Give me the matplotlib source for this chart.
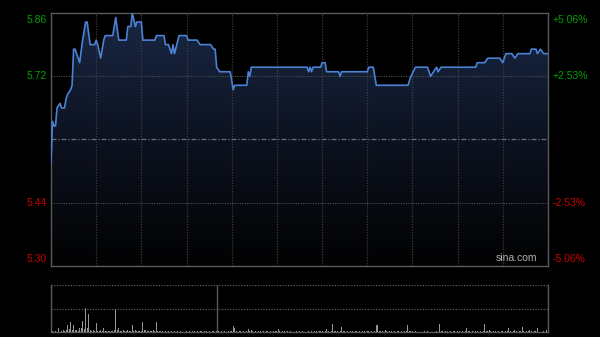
import matplotlib
matplotlib.use('Agg')
import matplotlib.pyplot as plt
import numpy as np
from matplotlib.colors import LinearSegmentedColormap

# ---- data ----
minutes = [0, 1, 2, 3, 4, 6, 7, 9, 10, 11, 13, 14, 15, 16, 19, 21, 23, 24, 26, 29, 30, 31,
           33, 35, 36, 38, 41, 43, 45, 50, 51, 53, 54, 56, 57, 60, 61, 69, 70, 75, 76, 78,
           80, 81, 82, 85, 90, 91, 97, 99, 106, 108, 109, 110, 112, 119, 121, 122, 130, 131,
           132, 133, 170, 171, 172, 173, 174, 179, 180, 182, 183, 191, 192, 193, 210, 211,
           214, 216, 237, 239, 242, 250, 252, 254, 256, 257, 259, 282, 283, 288, 290, 298,
           300, 302, 306, 308, 310, 318, 319, 322, 323, 325, 327, 330]
prices = [5.53, 5.62, 5.61, 5.61, 5.65, 5.66, 5.65, 5.65, 5.67, 5.68, 5.69, 5.70, 5.78, 5.78,
          5.75, 5.80, 5.84, 5.84, 5.79, 5.79, 5.80, 5.79, 5.76, 5.80, 5.81, 5.81, 5.81, 5.85,
          5.80, 5.80, 5.83, 5.83, 5.86, 5.83, 5.84, 5.84, 5.80, 5.80, 5.81, 5.81, 5.79, 5.79,
          5.77, 5.79, 5.77, 5.81, 5.81, 5.80, 5.80, 5.79, 5.79, 5.78, 5.78, 5.74, 5.73, 5.73,
          5.69, 5.70, 5.70, 5.73, 5.72, 5.74, 5.74, 5.73, 5.74, 5.73, 5.74, 5.74, 5.75, 5.75,
          5.73, 5.73, 5.72, 5.73, 5.73, 5.74, 5.74, 5.70, 5.70, 5.72, 5.74, 5.74, 5.72, 5.73,
          5.74, 5.73, 5.74, 5.74, 5.75, 5.75, 5.76, 5.76, 5.75, 5.77, 5.77, 5.76, 5.77, 5.77,
          5.78, 5.78, 5.77, 5.78, 5.77, 5.77]

volume = [
    12, 3, 5, 2, 3, 8.5, 3, 2, 5, 3, 4, 15.6, 6, 21, 5, 15.6, 4, 5, 3, 8.5, 8.5, 23, 6, 52, 8, 37.6, 5, 3, 4, 3,
    19, 3, 2, 4, 3, 9, 3, 2, 3, 2, 2, 3, 4, 50, 5, 9, 3, 2, 5, 2, 2, 4, 3, 3, 15.6, 3, 3.5, 2, 2, 2,
    3, 21, 4, 5, 2, 2, 3, 2, 5, 3, 21, 3, 2, 2, 3, 12.8, 3, 2, 2, 2, 3, 2, 3, 2, 2, 2, 3, 2, 1, 2,
    2, 1, 2, 1, 2, 2, 1, 2, 1, 2, 2, 1, 2, 2, 1, 2, 1, 2, 2, 1, 2, 2, 1, 2, 1, 2, 1, 1, 2, 2,
    2, 12.8, 9, 2, 1, 2, 2, 1, 2, 1, 2, 7, 2, 3.5, 2, 1, 2, 1, 2, 2, 1, 2, 1, 2, 2, 1, 2, 1, 2, 2,
    2, 5.7, 2, 1, 2, 2, 1, 2, 1, 2, 2, 1, 2, 2, 1, 2, 1, 2, 2, 1, 2, 2, 1, 2, 1, 2, 2, 1, 2, 2,
    2, 1, 2, 7, 2, 1, 2, 16, 3, 2, 2, 1, 2, 10.6, 2, 2, 1, 2, 1, 2, 2, 1, 2, 2, 1, 2, 1, 2, 2, 1,
    2, 2, 1, 2, 1, 2, 15, 15, 3, 2, 2, 1, 3.5, 2, 1, 2, 2, 1, 2, 1, 2, 2, 1, 2, 1, 2, 2, 15, 3, 2,
    2, 1, 2, 2, 1, 2, 1, 2, 2, 1, 2, 2, 1, 2, 1, 2, 2, 1, 16, 2, 2, 1, 2, 2, 1, 2, 1, 2, 2, 1,
    2, 2, 1, 2, 1, 2, 8.5, 2, 2, 1, 2, 1, 2, 2, 1, 2, 1, 2, 16, 2, 2, 5, 2, 1, 2, 2, 1, 2, 1, 2,
    2, 1, 2, 2, 8.5, 2, 1, 2, 5, 2, 1, 2, 2, 10.6, 2, 1, 2, 2, 3.5, 2, 1, 2, 2, 8.5, 2, 1, 2, 2, 1, 5, 2,
]

prev_close = 5.58
left_ticks = [5.86, 5.72, 5.44, 5.30]
left_labels = ['5.86', '5.72', '5.44', '5.30']
right_labels = ['+5.06%', '+2.53%', '-2.53%', '-5.06%']
grid_minutes = [30, 60, 90, 120, 150, 180, 210, 240, 270, 300]
vol_sep_minute = 110

# ---- figure ----
W, H = 600, 337
fig = plt.figure(figsize=(W / 100, H / 100), dpi=100, facecolor='black')
ax = fig.add_axes([51 / W, 1 - 266 / H, 497 / W, 253 / H])
ax.set_facecolor('black')
ax.set_xlim(0, 330)
ax.set_ylim(5.30, 5.86)

grad = np.linspace(1, 0, 256).reshape(-1, 1)
cmap = LinearSegmentedColormap.from_list('g', ['#020202', '#0c1220', '#1a2845'])
im = ax.imshow(grad, extent=[0, 330, 5.30, 5.86], aspect='auto', cmap=cmap,
               origin='upper', zorder=1, interpolation='bilinear')
poly = ax.fill_between(minutes, prices, 5.30, facecolor='none', edgecolor='none')
im.set_clip_path(poly.get_paths()[0], transform=ax.transData)

for m in grid_minutes:
    ax.axvline(m, color='#3d3d3d', lw=0.9, ls=(0, (1, 1.2)), zorder=2)
for v in [5.72, 5.44]:
    ax.axhline(v, color='#505050', lw=0.8, ls=(0, (1, 1.2)), zorder=2)
ax.axhline(prev_close, color='#6a6f78', lw=0.9, ls=(0, (4, 1.5, 1, 1.5)), zorder=2)

ax.plot(minutes, prices, color='#4a82d4', lw=1.2, zorder=3, solid_joinstyle='round')

for s in ax.spines.values():
    s.set_color('#5a5a5a')
    s.set_linewidth(1.0)
ax.set_xticks([])
ax.set_yticks([])

tr = ax.get_yaxis_transform()
vas = ['top', 'center', 'center', 'bottom']
cols = ['#00a000', '#00a000', '#cc0000', '#cc0000']
for v, lab, rlab, va, c in zip(left_ticks, left_labels, right_labels, vas, cols):
    off = -0.004 if va == 'top' else (0.004 if va == 'bottom' else 0)
    ax.text(-0.008, v + off, lab, transform=tr, ha='right', va=va, color=c,
            fontsize=7.5, family='Liberation Sans')
    ax.text(1.01, v + off, rlab, transform=tr, ha='left', va=va, color=c,
            fontsize=7.5, family='Liberation Sans')

ax.text(0.978, 0.012, 'sina.com', transform=ax.transAxes, ha='right', va='bottom',
        color='#b0b0b0', fontsize=7.5, family='Liberation Sans', zorder=4)

# ---- volume ----
vax = fig.add_axes([51 / W, 1 - 332 / H, 497 / W, 47 / H])
vax.set_facecolor('black')
vax.set_xlim(0, 330)
vax.set_ylim(0, 100)
vax.bar(range(len(volume)), volume, width=0.6, color='#959595', linewidth=0, zorder=3)
vax.axhline(100, color='#5a5a5a', lw=0.9, ls=(0, (1, 1.2)), zorder=2)
vax.axhline(50, color='#5a5a5a', lw=0.9, ls=(0, (1, 1.2)), zorder=2)
vax.axvline(vol_sep_minute, color='#5a5a5a', lw=1.0, zorder=2)
vax.spines['top'].set_visible(False)
for k in ['left', 'right', 'bottom']:
    vax.spines[k].set_color('#5a5a5a')
    vax.spines[k].set_linewidth(1.0)
vax.set_xticks([])
vax.set_yticks([])

fig.savefig('out.png', dpi=100, facecolor='black')
